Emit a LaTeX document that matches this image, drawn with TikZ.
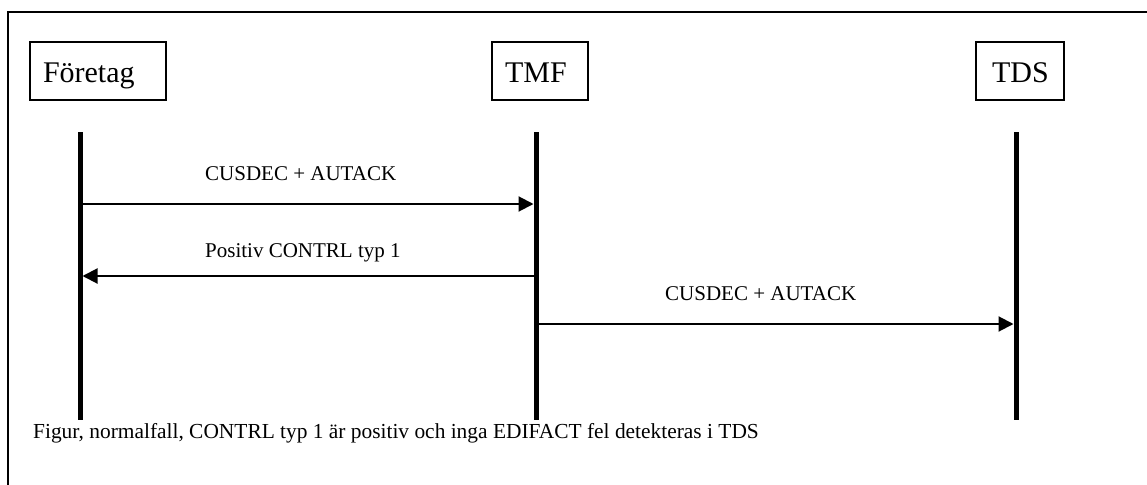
\documentclass[tikz,border=0pt]{standalone}
\usepackage{fontspec}
\setmainfont{Liberation Serif}
\usetikzlibrary{arrows.meta}
\begin{document}
\begin{tikzpicture}[x=1pt,y=-1pt,
  actorbox/.style={draw,line width=1.5pt,inner ysep=0pt,inner xsep=13pt,align=left,
    text height=41pt,text depth=17pt,font=\fontsize{30}{36}\selectfont},
  lifeline/.style={line width=5pt},
  msg/.style={line width=2pt,-{Triangle[length=15pt,width=15pt]},shorten >=2.5pt},
  msglabel/.style={anchor=base west,inner sep=0pt,font=\fontsize{21}{25}\selectfont},
  caption/.style={anchor=base west,inner sep=0pt,font=\fontsize{21.4}{25}\selectfont},
  frameline/.style={line width=2pt}]
\useasboundingbox (0,0) rectangle (1147,484);
% frame
\coordinate (fbl) at (8,490);
\coordinate (ftl) at (8,12);
\coordinate (ftr) at (1155,12);
\draw[frameline] (fbl) -- (ftl) -- (ftr);
% actors
\node[actorbox,text width=110pt] (fa) at (98,71) {Företag};
\node[actorbox,text width=70pt] (tmf) at (540,71) {TMF};
\node[actorbox,text width=56pt,inner xsep=16pt] (tds) at (1020,71) {TDS};
% lifelines
\coordinate (fatop) at (80,132);  \coordinate (fabot) at (80,420);
\coordinate (tmftop) at (536,132); \coordinate (tmfbot) at (536,420);
\coordinate (tdstop) at (1016,132); \coordinate (tdsbot) at (1016,420);
\draw[lifeline] (fatop) -- (fabot);
\draw[lifeline] (tmftop) -- (tmfbot);
\draw[lifeline] (tdstop) -- (tdsbot);
% messages
\coordinate (m1s) at (80,204);  \coordinate (m1e) at (536,204);
\coordinate (m2s) at (536,276); \coordinate (m2e) at (80,276);
\coordinate (m3s) at (536,324); \coordinate (m3e) at (1016,324);
\draw[msg] (m1s) -- (m1e);
\draw[msg] (m2s) -- (m2e);
\draw[msg] (m3s) -- (m3e);
\node[msglabel] (l1) at (205,180) {CUSDEC + AUTACK};
\node[msglabel] (l2) at (205,257) {Positiv CONTRL typ 1};
\node[msglabel] (l3) at (665,300) {CUSDEC + AUTACK};
% caption
\node[caption] (cap) at (33,438) {Figur, normalfall, CONTRL typ 1 är positiv och inga EDIFACT fel detekteras i TDS};
\end{tikzpicture}
\end{document}
